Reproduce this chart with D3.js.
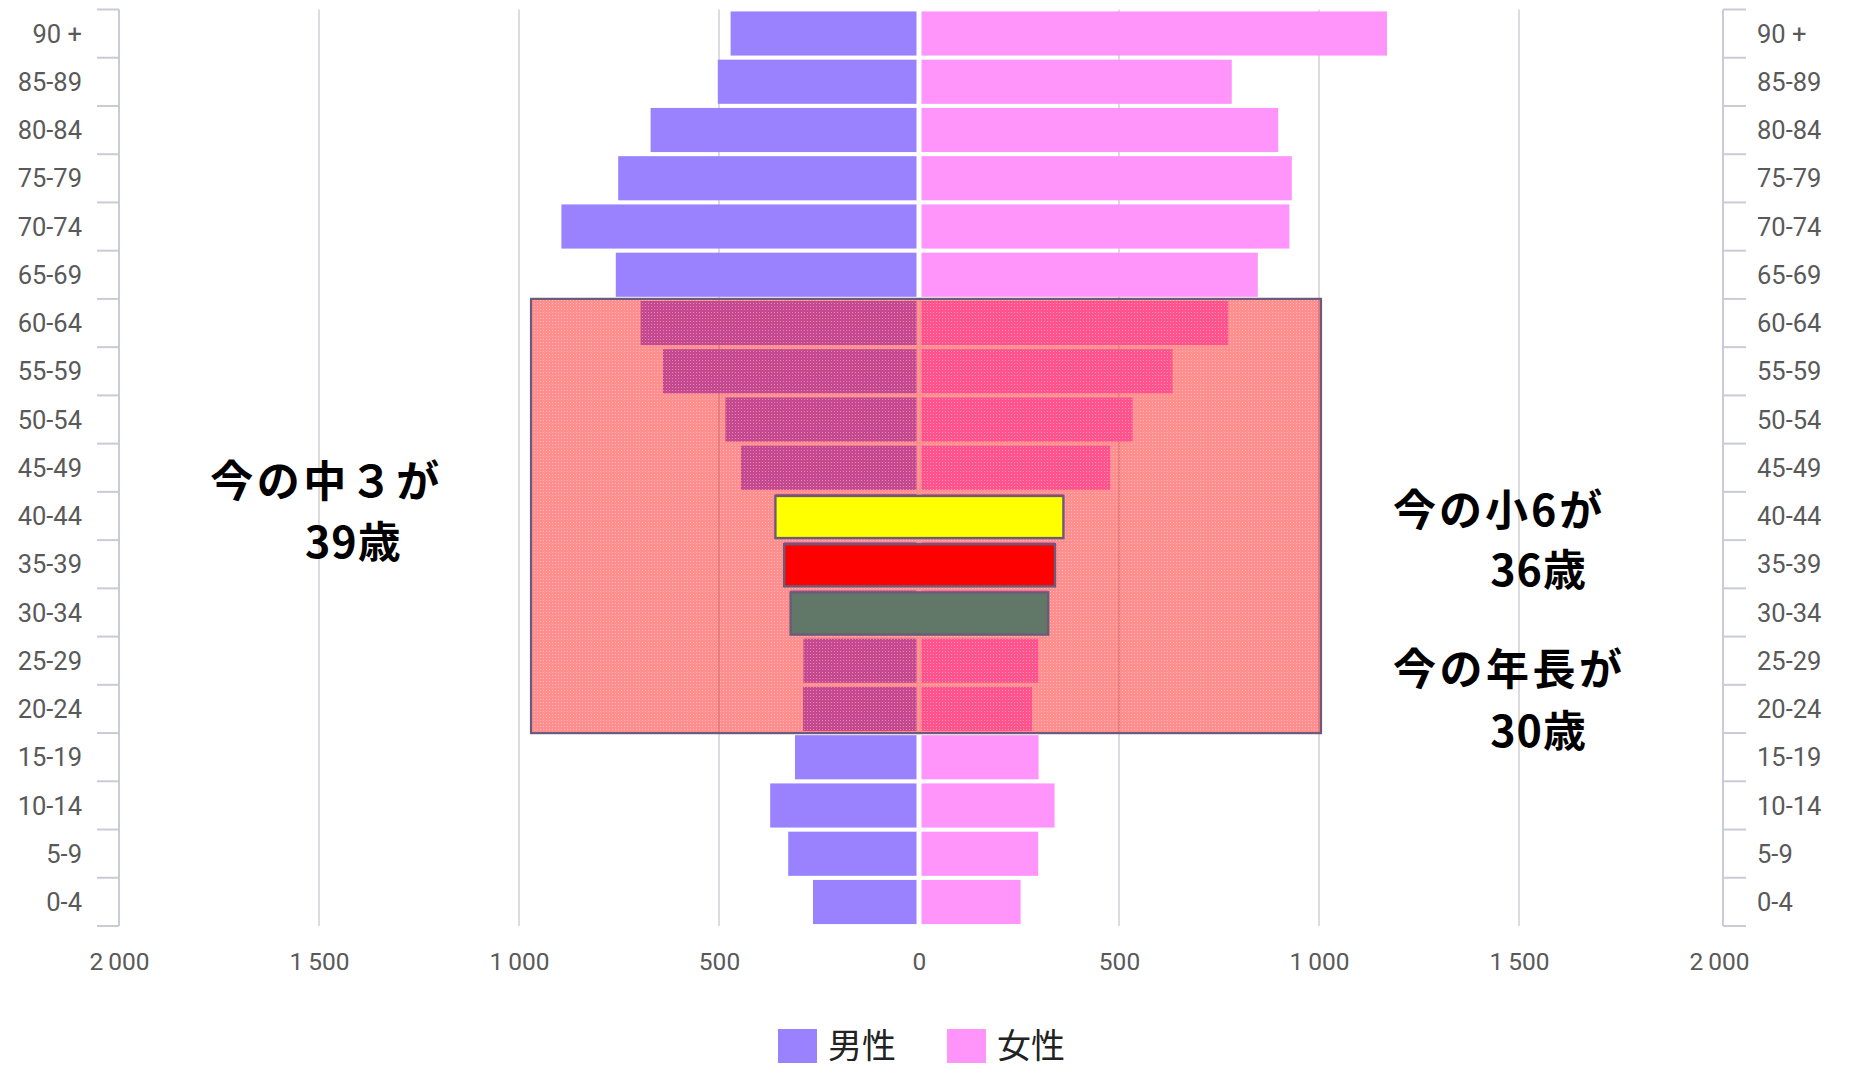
<!DOCTYPE html>
<html lang="ja">
<head>
<meta charset="utf-8">
<script src="https://cdn.jsdelivr.net/npm/d3@7"></script>
<style>
  html, body { margin: 0; padding: 0; background: #ffffff; }
  svg { display: block; }
</style>
</head>
<body>
<svg id="chart" width="1854" height="1067"></svg>
<script>
// Age groups, bottom to top
const ageGroups = ["0-4","5-9","10-14","15-19","20-24","25-29","30-34","35-39","40-44",
                   "45-49","50-54","55-59","60-64","65-69","70-74","75-79","80-84","85-89","90 +"];
// Population by age group
const maleValues   = [265, 327, 372, 310, 290, 289, 321, 337, 359, 445, 484, 640, 696, 758, 894, 752, 671, 503, 471];
const femaleValues = [254, 298, 339, 299, 283, 298, 323, 340, 361, 478, 534, 634, 773, 847, 926, 932, 898, 782, 1170];

const xTickValues = [-2000, -1500, -1000, -500, 0, 500, 1000, 1500, 2000];

// Emphasised groups (drawn as solid framed bars)
const emphasisGroups = ["40-44", "35-39", "30-34"];
const emphasisColors = ["#ffff00", "#ff0000", "#617868"];

// Shaded working-age block
const shadeGroups = ["60-64", "20-24"];
const shadeSpan = [-970, 1005];

// Annotations
const noteLines = [
  {text: "今の中３が", x: -1772, group: "45-49", dy: 0.28, spacing: 3.5},
  {text: "39歳",     x: -1535, group: "40-44", dy: 0.55, spacing: 1},
  {text: "今の小6が", x: 1185,  group: "40-44", dy: -0.12, spacing: 3},
  {text: "36歳",     x: 1428,  group: "35-39", dy: 0.14, spacing: 1},
  {text: "今の年長が", x: 1185,  group: "25-29", dy: 0.18, spacing: 3.5},
  {text: "30歳",     x: 1428,  group: "20-24", dy: 0.47, spacing: 1}
];

const legendItems = ["男性", "女性"];
const maleColor = "#9a82ff";
const femaleColor = "#ff94fb";

const svg = d3.select("#chart");

const plotTop = 9.5, plotBottom = 926;
const x = d3.scaleLinear().domain([-2000, 2000]).range([119, 1719]);
const y = d3.scaleBand().domain(ageGroups.slice().reverse()).range([plotTop, plotBottom])
  .paddingInner(0.085).paddingOuter(0.04);
const bandStep = y.step();

const locale = d3.formatLocale({decimal: ".", thousands: "\u2009", grouping: [3], currency: ["", ""]});
const fmt = locale.format(",d");

// Pattern for the shaded block
const defs = svg.append("defs");
const pat = defs.append("pattern").attr("id", "dither").attr("patternUnits", "userSpaceOnUse")
  .attr("width", 3).attr("height", 3);
pat.append("rect").attr("width", 3).attr("height", 3).attr("fill", "rgba(255,0,0,0.44)");
pat.append("rect").attr("width", 1).attr("height", 1).attr("fill", "rgba(255,255,255,0.35)");

// Vertical gridlines
svg.append("g").selectAll("line")
  .data(xTickValues.filter(d => Math.abs(d) !== 2000 && d !== 0))
  .join("line")
  .attr("x1", d => x(d)).attr("x2", d => x(d))
  .attr("y1", plotTop).attr("y2", plotBottom)
  .attr("stroke", "#d4d4d8").attr("stroke-width", 1.6);

// Side axes with ticks at band boundaries
const boundaries = d3.range(ageGroups.length + 1)
  .map(i => plotTop + i * (plotBottom - plotTop) / ageGroups.length);
const axisColor = "#c9cbd6";
const leftX = x(-2000), rightX = x(2000) + 4;
svg.append("line").attr("x1", leftX).attr("x2", leftX).attr("y1", plotTop).attr("y2", plotBottom)
  .attr("stroke", axisColor).attr("stroke-width", 2);
svg.append("line").attr("x1", rightX).attr("x2", rightX).attr("y1", plotTop).attr("y2", plotBottom)
  .attr("stroke", axisColor).attr("stroke-width", 2);
svg.append("g").selectAll("line").data(boundaries).join("line")
  .attr("x1", leftX - 22).attr("x2", leftX).attr("y1", d => d).attr("y2", d => d)
  .attr("stroke", axisColor).attr("stroke-width", 2);
svg.append("g").selectAll("line").data(boundaries).join("line")
  .attr("x1", rightX).attr("x2", rightX + 23).attr("y1", d => d).attr("y2", d => d)
  .attr("stroke", axisColor).attr("stroke-width", 2);

// Category labels on both sides
const labelFont = "Roboto, 'DejaVu Sans', sans-serif";
svg.append("g").selectAll("text").data(ageGroups).join("text")
  .attr("x", 82).attr("y", d => y(d) + y.bandwidth() / 2).attr("dy", "0.36em")
  .attr("text-anchor", "end").attr("font-family", labelFont).attr("font-size", 25.5)
  .attr("fill", "#595959").text(d => d);
svg.append("g").selectAll("text").data(ageGroups).join("text")
  .attr("x", 1757).attr("y", d => y(d) + y.bandwidth() / 2).attr("dy", "0.36em")
  .attr("text-anchor", "start").attr("font-family", labelFont).attr("font-size", 25.5)
  .attr("fill", "#595959").text(d => d);

// Bottom value axis
const xAxis = d3.axisBottom(x).tickValues(xTickValues).tickSize(0).tickFormat(d => fmt(Math.abs(d)));
const gx = svg.append("g").attr("transform", `translate(0, ${plotBottom + 24})`).call(xAxis);
gx.select(".domain").remove();
gx.selectAll("text").attr("font-family", labelFont).attr("font-size", 24.5).attr("fill", "#595959");

// Bars
const rows = ageGroups.map((g, i) => ({group: g, male: maleValues[i], female: femaleValues[i]}));
const gap = 2.5;
svg.append("g").selectAll("rect").data(rows).join("rect")
  .attr("x", d => x(-d.male)).attr("y", d => y(d.group))
  .attr("width", d => x(0) - gap - x(-d.male)).attr("height", y.bandwidth())
  .attr("fill", maleColor);
svg.append("g").selectAll("rect").data(rows).join("rect")
  .attr("x", x(0) + gap).attr("y", d => y(d.group))
  .attr("width", d => x(d.female) - x(0) - gap).attr("height", y.bandwidth())
  .attr("fill", femaleColor);

// Shaded block over the working-age groups
const shadeTop = y(shadeGroups[0]) - (bandStep - y.bandwidth()) / 2;
const shadeBottom = y(shadeGroups[1]) + y.bandwidth() + (bandStep - y.bandwidth()) / 2;
svg.append("rect")
  .attr("x", x(shadeSpan[0])).attr("y", shadeTop)
  .attr("width", x(shadeSpan[1]) - x(shadeSpan[0])).attr("height", shadeBottom - shadeTop)
  .attr("fill", "url(#dither)").attr("stroke", "#6c5a7c").attr("stroke-width", 2.2);

// Emphasised groups
const emphRows = emphasisGroups.map((g, i) => {
  const idx = ageGroups.indexOf(g);
  return {group: g, male: maleValues[idx], female: femaleValues[idx], color: emphasisColors[i]};
});
svg.append("g").selectAll("rect").data(emphRows).join("rect")
  .attr("x", d => x(-d.male)).attr("y", d => y(d.group) + 2)
  .attr("width", d => x(d.female) - x(-d.male)).attr("height", y.bandwidth() - 2)
  .attr("fill", d => d.color).attr("stroke", "#6a5c78").attr("stroke-width", 2.4);

// Annotations
const noteFont = "'Noto Sans CJK JP', 'Noto Sans CJK SC', sans-serif";
svg.append("g").selectAll("text").data(noteLines).join("text")
  .attr("x", d => x(d.x))
  .attr("y", d => y(d.group) + y.bandwidth() / 2 + d.dy * bandStep)
  .attr("dy", "0.36em")
  .attr("font-family", noteFont).attr("font-weight", 700).attr("font-size", 43)
  .attr("letter-spacing", d => d.spacing)
  .attr("fill", "#000").text(d => d.text);

// Legend
const legendX = [778, 947];
const lg = svg.append("g");
legendItems.forEach((name, i) => {
  lg.append("rect").attr("x", legendX[i]).attr("y", 1029).attr("width", 39).attr("height", 34)
    .attr("fill", i === 0 ? maleColor : femaleColor);
  lg.append("text").attr("x", legendX[i] + 50).attr("y", 1046).attr("dy", "0.36em")
    .attr("font-family", noteFont).attr("font-size", 34).attr("fill", "#222").text(name);
});
</script>
</body>
</html>
